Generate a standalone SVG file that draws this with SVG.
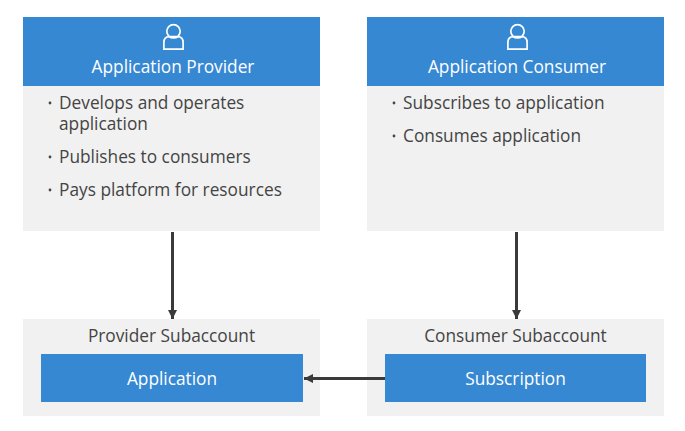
<svg xmlns="http://www.w3.org/2000/svg" width="685" height="431" viewBox="0 0 685 431">
<style>
text{font-family:"Open Sans","Liberation Sans",sans-serif;font-size:17.3px}
.w{fill:#fff;text-anchor:middle}
.d{fill:#444}
.c{fill:#444;text-anchor:middle}
.h{fill:#3688d3}
.g{fill:#f1f1f1}
.i{fill:none;stroke:#fff;stroke-width:1.7}
.l{stroke:#3a3a3a;stroke-width:3;fill:none}
.b{fill:#444}
</style>
<defs>
<marker id="a" markerUnits="userSpaceOnUse" markerWidth="10" markerHeight="10" refX="9" refY="5" orient="auto"><path d="M0,0.5L9,5L0,9.5z" fill="#3a3a3a"/></marker>
<g id="p"><circle cx="0" cy="-3.7" r="6.7" class="i"/><path d="M-9.6,14.2V7.5Q-9.6,1.6-4,1.6H4Q9.6,1.6 9.6,7.5V14.2Z" class="i"/></g>
</defs>
<rect width="685" height="431" fill="#fff"/>
<g id="provider">
<rect x="23" y="17" width="297" height="214" class="g"/><rect x="23" y="17" width="297" height="69" class="h"/>
<use href="#p" x="173.500" y="35"/>
<text x="173" y="72.500" class="w">Application Provider</text>
<circle cx="50" cy="103" r="1.4" class="b"/><text x="59" y="108.500" class="d">Develops and operates</text><text x="59" y="129.500" class="d">application</text>
<circle cx="50" cy="157" r="1.4" class="b"/><text x="59" y="162.500" class="d">Publishes to consumers</text>
<circle cx="50" cy="190" r="1.4" class="b"/><text x="59" y="195.500" class="d">Pays platform for resources</text>
</g>
<g id="consumer">
<rect x="367" y="17" width="297" height="214" class="g"/><rect x="367" y="17" width="297" height="69" class="h"/>
<use href="#p" x="517.500" y="35"/>
<text x="517" y="72.500" class="w">Application Consumer</text>
<circle cx="394" cy="103" r="1.4" class="b"/><text x="403" y="108.500" class="d">Subscribes to application</text>
<circle cx="394" cy="136" r="1.4" class="b"/><text x="403" y="141.500" class="d">Consumes application</text>
</g>
<g id="provider-subaccount">
<rect x="23" y="319" width="297" height="97" class="g"/>
<text x="171.500" y="341.500" class="c">Provider Subaccount</text>
</g>
<g id="application"><rect x="41" y="354" width="262" height="48" class="h"/><text x="172" y="384.500" class="w">Application</text></g>
<g id="consumer-subaccount">
<rect x="367" y="319" width="297" height="97" class="g"/>
<text x="515.500" y="341.500" class="c">Consumer Subaccount</text>
</g>
<g id="subscription"><rect x="385" y="354" width="261" height="48" class="h"/><text x="515.500" y="384.500" class="w">Subscription</text></g>
<g id="connectors">
<path d="M172.500,232V319" class="l" marker-end="url(#a)"/>
<path d="M516.500,232V319" class="l" marker-end="url(#a)"/>
<path d="M385,378.500H304" class="l" marker-end="url(#a)"/>
</g>
</svg>
